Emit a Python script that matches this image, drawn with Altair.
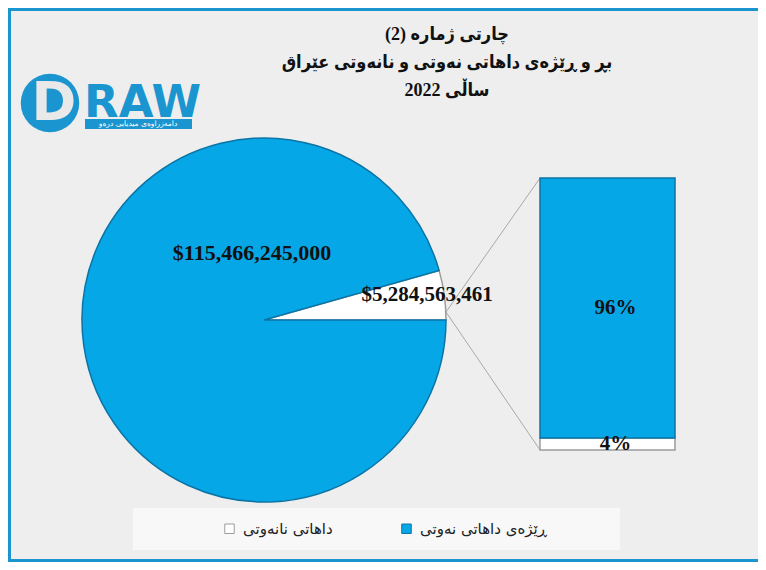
import math
import altair as alt
import pandas as pd

# ---- data ----
CATEGORIES = ["داهاتی نانەوتی", "ڕێژەی داهاتی نەوتی"]
VALUES = [5284563461, 115466245000]
ORDER = [0, 1]
TITLE_LINES = ["چارتی ژمارە (2)", "بڕ و ڕێژەی داهاتی نەوتی و نانەوتی عێراق", "ساڵی 2022"]
LOGO_LETTER = "D"
LOGO_WORD = "RAW"
LOGO_TAG = "دامەزراوەی میدیایی درەو"

# ---- style ----
COLORS = ["#ffffff", "#06a7e6"]
EDGES = ["#9c9c9c", "#0b74a6"]
BLUE = "#1b95d0"
SERIF = "Liberation Serif, DejaVu Sans Condensed, DejaVu Sans"
SANS = "DejaVu Sans"

W, H = 750, 554
CX, CY, R = 256, 312, 182
BAR_X0, BAR_X1, BAR_BOT, BAR_TOP = 532, 667, 442, 170

df = pd.DataFrame({"cat": CATEGORIES, "value": VALUES, "ord": ORDER})
one = alt.Chart(pd.DataFrame({"k": [0]}))
base = alt.Chart(df)

share_small = VALUES[0] / sum(VALUES)
start = math.pi / 2 - 2 * math.pi * share_small

legend = alt.Legend(
    title=None, orient="none", legendX=214, legendY=513, direction="horizontal",
    symbolType="square", symbolSize=90, symbolStrokeColor="#555555", symbolStrokeWidth=1,
    labelFont=SANS, labelFontSize=15, labelColor="#222222", columnPadding=66,
    labelOffset=6, padding=0,
)
color = alt.Color("cat:N", scale=alt.Scale(domain=CATEGORIES, range=COLORS), legend=legend)
stroke = alt.Stroke("cat:N", scale=alt.Scale(domain=CATEGORIES, range=EDGES), legend=None)
yscale = alt.Scale(domain=[0, 1], range=[BAR_BOT, BAR_TOP])

# background pieces
border_top = one.mark_rect(color=BLUE).encode(x=alt.value(0), x2=alt.value(W), y=alt.value(0), y2=alt.value(3))
border_left = one.mark_rect(color=BLUE).encode(x=alt.value(0), x2=alt.value(3), y=alt.value(0), y2=alt.value(H))
border_bot = one.mark_rect(color=BLUE).encode(x=alt.value(0), x2=alt.value(W), y=alt.value(H - 3), y2=alt.value(H))
legend_box = one.mark_rect(color="#f8f8f8").encode(x=alt.value(125), x2=alt.value(612), y=alt.value(500), y2=alt.value(542))

# title
title = one.mark_text(text=TITLE_LINES, lineHeight=28, fontSize=18, fontWeight="bold", font=SERIF,
                      baseline="top", align="center", color="#111111").encode(x=alt.value(439), y=alt.value(18))

# logo
logo_circle = one.mark_circle(size=3420, color=BLUE, opacity=1).encode(x=alt.value(42), y=alt.value(95))
logo_d = one.mark_text(text=LOGO_LETTER, fontSize=54, fontWeight="bold", font=SANS, color="#e9e9e9",
                       baseline="middle", align="center").encode(x=alt.value(46), y=alt.value(96))
logo_word = one.mark_text(text=LOGO_WORD, fontSize=45, fontWeight="bold", font=SANS, color=BLUE,
                          baseline="alphabetic", align="left").encode(x=alt.value(76), y=alt.value(109))
logo_bar = one.mark_rect(color=BLUE).encode(x=alt.value(77), x2=alt.value(184), y=alt.value(111), y2=alt.value(121))
logo_tag = one.mark_text(text=LOGO_TAG, fontSize=7.5, font=SANS, color="#ffffff",
                         baseline="middle", align="center").encode(x=alt.value(130), y=alt.value(116))

# pie
pie = base.mark_arc(outerRadius=R, strokeWidth=1.5).encode(
    theta=alt.Theta("value:Q", stack=True, scale=alt.Scale(range=[start, start + 2 * math.pi])),
    color=color, stroke=stroke, order=alt.Order("ord:Q"),
    x=alt.value(CX), y=alt.value(CY),
)
lbl_big = base.transform_filter(alt.datum.ord == 1).mark_text(
    font=SERIF, fontSize=22, fontWeight="bold", color="#111111", baseline="middle", align="center"
).encode(text=alt.Text("value:Q", format="$,.0f"), x=alt.value(244), y=alt.value(245))
lbl_small = base.transform_filter(alt.datum.ord == 0).mark_text(
    font=SERIF, fontSize=21, fontWeight="bold", color="#111111", baseline="middle", align="center"
).encode(text=alt.Text("value:Q", format="$,.0f"), x=alt.value(419), y=alt.value(287))

# connectors
conn_top = one.mark_rule(color="#a8a8a8", strokeWidth=1).encode(
    x=alt.value(CX + R), y=alt.value(CY - 8), x2=alt.value(BAR_X0), y2=alt.value(BAR_TOP))
conn_bot = one.mark_rule(color="#a8a8a8", strokeWidth=1).encode(
    x=alt.value(CX + R), y=alt.value(CY - 8), x2=alt.value(BAR_X0), y2=alt.value(BAR_BOT))

# bar of pie (explicit stacking, non-oil at bottom)
pct_base = (
    base.transform_joinaggregate(total="sum(value)")
    .transform_calculate(pct="datum.value / datum.total")
    .transform_window(cum="sum(pct)", sort=[alt.SortField("ord")])
    .transform_calculate(y0="datum.cum - datum.pct", mid="datum.cum - datum.pct / 2")
)
bar = pct_base.mark_rect(strokeWidth=1.5).encode(
    x=alt.value(BAR_X0), x2=alt.value(BAR_X1),
    y=alt.Y("y0:Q", scale=yscale, axis=None), y2="cum:Q",
    color=color, stroke=stroke,
)
bar_txt = pct_base.mark_text(font=SERIF, fontSize=21, fontWeight="bold", color="#111111",
                             baseline="middle", align="center").encode(
    x=alt.value((BAR_X0 + BAR_X1) / 2 + 8),
    y=alt.Y("mid:Q", scale=yscale, axis=None),
    text=alt.Text("pct:Q", format=".0%"),
)

chart = alt.layer(
    border_top, border_left, border_bot, legend_box, title,
    logo_circle, logo_d, logo_word, logo_bar, logo_tag,
    conn_top, conn_bot, pie, lbl_big, lbl_small, bar, bar_txt,
).properties(
    width=W, height=H, autosize=alt.AutoSizeParams(type="none"), padding=0, background="#eeeeee"
).configure_view(stroke=None)

chart.save("out.html", embed_options={"renderer": "svg", "actions": False})
